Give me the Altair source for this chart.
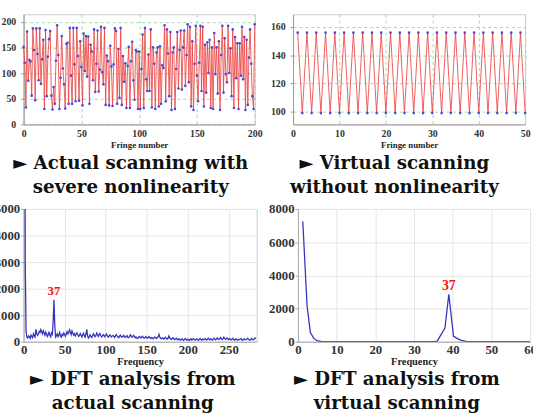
import altair as alt
import pandas as pd

# ---------------- data ----------------
# actual scanning: fringe intensity for fringe numbers 0..200
fringe_actual = [
    151, 120, 33, 181, 85, 126, 123, 56, 187, 145,
    47, 187, 137, 86, 187, 79, 127, 165, 30, 184,
    55, 132, 166, 182, 56, 29, 73, 40, 124, 193,
    135, 30, 91, 172, 109, 78, 31, 157, 159, 40,
    188, 95, 40, 188, 117, 45, 188, 133, 46, 162,
    112, 37, 177, 104, 172, 93, 171, 40, 155, 142,
    86, 185, 63, 118, 183, 64, 107, 190, 102, 78,
    188, 38, 134, 123, 37, 153, 113, 36, 117, 187,
    182, 40, 147, 52, 188, 38, 133, 83, 119, 32,
    114, 151, 32, 123, 161, 86, 48, 145, 142, 30,
    142, 30, 108, 175, 32, 188, 88, 65, 136, 65,
    185, 33, 150, 118, 30, 140, 150, 35, 152, 40,
    115, 110, 193, 45, 185, 138, 55, 180, 28, 140,
    150, 30, 108, 180, 70, 145, 183, 68, 150, 183,
    75, 135, 195, 82, 190, 35, 162, 28, 118, 192,
    95, 45, 120, 192, 65, 190, 35, 155, 62, 160,
    100, 165, 32, 150, 30, 178, 98, 150, 60, 162,
    28, 135, 192, 62, 168, 98, 82, 192, 100, 148,
    55, 185, 32, 170, 90, 158, 30, 158, 95, 190,
    88, 170, 28, 165, 38, 130, 185, 118, 55, 30,
    195,
]

# virtual scanning: fringe intensity for fringe numbers 1..50
fringe_virtual_n = list(range(1, 51))
fringe_virtual = [
    156, 99, 156, 99, 156, 99, 156, 99, 156, 99,
    156, 99, 156, 99, 156, 99, 156, 99, 156, 99,
    156, 99, 156, 99, 156, 99, 156, 99, 156, 99,
    156, 99, 156, 99, 156, 99, 156, 99, 156, 99,
    156, 99, 156, 99, 156, 99, 156, 99, 156, 99,
]

# DFT magnitude of the actual scan, frequencies 1..283
dft_actual_f = list(range(1, 284))
dft_actual = [
    20000, 3000, 380, 160, 140, 220, 180, 130, 250, 200,
    150, 300, 230, 180, 470, 320, 240, 280, 390, 350,
    460, 380, 300, 410, 330, 250, 360, 290, 200, 260,
    380, 240, 180, 330, 280, 750, 1580, 620, 180, 230,
    300, 190, 260, 350, 210, 170, 280, 240, 330, 260,
    200, 300, 380, 290, 340, 450, 360, 270, 410, 330,
    250, 300, 220, 280, 340, 260, 200, 230, 310, 250,
    180, 260, 320, 220, 170, 300, 470, 210, 140, 190,
    260, 200, 160, 230, 300, 250, 190, 220, 330, 280,
    200, 260, 310, 240, 180, 210, 270, 230, 190, 250,
    290, 220, 170, 200, 260, 230, 180, 210, 240, 200,
    160, 230, 270, 210, 180, 150, 220, 250, 190, 170,
    210, 240, 180, 160, 200, 230, 170, 150, 190, 260,
    220, 170, 190, 240, 200, 150, 180, 130, 120, 160,
    200, 170, 140, 180, 210, 160, 130, 150, 190, 160,
    130, 170, 200, 150, 120, 160, 140, 110, 150, 180,
    140, 120, 160, 190, 280, 170, 130, 110, 150, 130,
    100, 140, 170, 120, 100, 130, 220, 150, 110, 90,
    120, 150, 110, 80, 100, 130, 90, 70, 110, 90,
    60, 80, 110, 70, 50, 90, 120, 80, 60, 100,
    70, 50, 90, 110, 60, 80, 120, 90, 60, 80,
    110, 70, 50, 90, 130, 80, 60, 100, 70, 90,
    120, 80, 60, 100, 140, 90, 70, 110, 80, 60,
    100, 130, 90, 70, 110, 150, 100, 80, 120, 160,
    110, 80, 120, 170, 130, 90, 110, 140, 100, 80,
    120, 90, 70, 100, 130, 80, 60, 90, 110, 70,
    60, 90, 80, 100, 120, 70, 60, 90, 110, 80,
    70, 100, 130, 90, 70, 60, 90, 120, 80, 70,
    90, 140, 110,
]

# DFT magnitude of the virtual scan
dft_virtual_f = [1.25, 2.35, 3.2, 4.1, 5.0, 6, 8, 12, 20, 30, 35, 36, 38, 39, 40.2, 41, 42.2, 43.5, 45, 50, 55, 60]
dft_virtual = [7250, 2150, 560, 200, 50, 20, 10, 5, 0, 0, 0, 40, 830, 2860, 340, 220, 80, 20, 5, 0, 0, 0]

peak_label = "37"

captions = {
    "actual": ["► Actual scanning with", "severe nonlinearity"],
    "virtual": ["► Virtual scanning", "without nonlinearity"],
    "dft_actual": ["► DFT analysis from", "actual scanning"],
    "dft_virtual": ["► DFT analysis from", "virtual scanning"],
}

# ---------------- styling helpers ----------------
TICK_FONT = "Liberation Serif"
CAP_FONT = "DejaVu Serif"
RED = "#ec4242"
BLUE_PT = "#4a4ad8"
BLUE_LINE = "#3434c0"
GREEN_GRID = "#a3d9a3"
GRAY_GRID = "#e6e6e6"


def caption(lines, dx, offset):
    return alt.TitleParams(
        text=lines, orient="bottom", anchor="middle", frame="group", dx=dx,
        offset=offset, font=CAP_FONT, fontSize=18.5, fontWeight="bold",
        lineHeight=24.5, color="#111111",
    )


def scan_axis_x(values, title):
    return alt.Axis(
        values=values, grid=True, gridColor=GREEN_GRID, gridDash=[3, 3],
        domainColor="#999999", tickSize=0, labelPadding=4, labelFlush=False,
        labelOverlap=False, format="d",
        labelFont=TICK_FONT, labelFontWeight="bold", labelFontSize=10, labelColor="#333333",
        title=title, titleFont=TICK_FONT, titleFontWeight="bold", titleFontSize=9,
        titleColor="#222222", titlePadding=2,
    )


def scan_axis_y(values, **extra):
    return alt.Axis(
        values=values, grid=True, gridColor=GREEN_GRID, gridDash=[3, 3],
        domainColor="#999999", tickSize=3, tickColor="#999999", labelPadding=5,
        labelOverlap=False, format="d",
        labelFont=TICK_FONT, labelFontWeight="bold", labelFontSize=10, labelColor="#333333",
        **extra,
    )


def dft_axis_x(values):
    return alt.Axis(
        values=values, grid=True, gridColor=GRAY_GRID, domainColor="#aaaaaa",
        tickSize=0, labelPadding=2, labelFlush=False, labelOverlap=False, format="d",
        labelFont=TICK_FONT, labelFontWeight="bold", labelFontSize=13, labelColor="#333333",
        title="Frequency", titleFont=TICK_FONT, titleFontWeight="bold", titleFontSize=10.5,
        titleColor="#222222", titlePadding=0,
    )


def dft_axis_y(values):
    return alt.Axis(
        values=values, grid=True, gridColor=GRAY_GRID, domainColor="#aaaaaa",
        tickSize=3, tickColor="#aaaaaa", labelPadding=1, labelOverlap=False, format="d",
        labelFont=TICK_FONT, labelFontWeight="bold", labelFontSize=13, labelColor="#333333",
        title=None,
    )


# ---------------- actual scanning ----------------
act_df = pd.DataFrame({"n": list(range(len(fringe_actual))), "v": fringe_actual})
base_a = alt.Chart(act_df).encode(
    x=alt.X("n:Q", scale=alt.Scale(domain=[0, 200], nice=False),
            axis=scan_axis_x([0, 50, 100, 150, 200], "Fringe number")),
    y=alt.Y("v:Q", scale=alt.Scale(domain=[0, 214.5], nice=False),
            axis=scan_axis_y([0, 50, 100, 150, 200], title="x", titleOpacity=0,
                             titleFontSize=2, titlePadding=13)),
)
panel_a = alt.layer(
    base_a.mark_line(color=RED, strokeWidth=1, opacity=0.85),
    base_a.mark_circle(color=BLUE_PT, size=7, opacity=1),
).properties(width=235, height=112, title=caption(captions["actual"], -8.5, 5))

# ---------------- virtual scanning ----------------
vir_df = pd.DataFrame({"n": fringe_virtual_n, "v": fringe_virtual})
base_b = alt.Chart(vir_df).encode(
    x=alt.X("n:Q", scale=alt.Scale(domain=[0, 50], nice=False),
            axis=scan_axis_x([0, 10, 20, 30, 40, 50], "Fringe number")),
    y=alt.Y("v:Q", scale=alt.Scale(domain=[91, 169], nice=False),
            axis=scan_axis_y([100, 120, 140, 160], title=None)),
)
panel_b = alt.layer(
    base_b.mark_line(color=RED, strokeWidth=1, opacity=0.85),
    base_b.mark_circle(color=BLUE_PT, size=7, opacity=1),
).properties(width=236, height=112, title=caption(captions["virtual"], -15, 5))

# ---------------- DFT of actual scan ----------------
dfa = pd.DataFrame({"f": dft_actual_f, "m": dft_actual})
peak_a = dfa.loc[dfa["f"] == 37].assign(lbl=peak_label)
enc_c = dict(
    x=alt.X("f:Q", scale=alt.Scale(domain=[0, 284], nice=False),
            axis=dft_axis_x([0, 50, 100, 150, 200, 250])),
    y=alt.Y("m:Q", scale=alt.Scale(domain=[0, 5000], nice=False),
            axis=dft_axis_y([0, 1000, 2000, 3000, 4000, 5000])),
)
line_c = alt.Chart(dfa).mark_line(color=BLUE_LINE, strokeWidth=1.3, clip=True).encode(**enc_c)
txt_c = alt.Chart(peak_a).mark_text(
    color="#ff1010", font=TICK_FONT, fontWeight="bold", fontSize=13,
    baseline="bottom", dy=-2,
).encode(text="lbl:N", **enc_c)
panel_c = alt.layer(line_c, txt_c).properties(
    width=237, height=135, title=caption(captions["dft_actual"], -7.5, 3))

# ---------------- DFT of virtual scan ----------------
dfv = pd.DataFrame({"f": dft_virtual_f, "m": dft_virtual})
peak_v = dfv.loc[dfv["m"] == dfv["m"].iloc[5:].max()].assign(lbl=peak_label)
enc_d = dict(
    x=alt.X("f:Q", scale=alt.Scale(domain=[0, 60], nice=False),
            axis=dft_axis_x([0, 10, 20, 30, 40, 50, 60])),
    y=alt.Y("m:Q", scale=alt.Scale(domain=[0, 8000], nice=False),
            axis=dft_axis_y([0, 2000, 4000, 6000, 8000])),
)
line_d = alt.Chart(dfv).mark_line(color=BLUE_LINE, strokeWidth=1.3, clip=True).encode(**enc_d)
txt_d = alt.Chart(peak_v).mark_text(
    color="#ff1010", font=TICK_FONT, fontWeight="bold", fontSize=14,
    baseline="bottom", dy=-1,
).encode(text="lbl:N", **enc_d)
panel_d = alt.layer(line_d, txt_d).properties(
    width=236, height=135, title=caption(captions["dft_virtual"], -17.5, 3))

# ---------------- layout ----------------
top_row = alt.hconcat(panel_a, panel_b, spacing=7)
bottom_row = alt.hconcat(panel_c, panel_d, spacing=10)

chart = alt.vconcat(top_row, bottom_row, spacing=5).properties(
    padding={"left": -15, "top": 10, "right": -4, "bottom": 0},
    background="white",
).configure_view(stroke="#cccccc", strokeWidth=1)

chart.save("out.html", embed_options={"renderer": "svg", "actions": False})
